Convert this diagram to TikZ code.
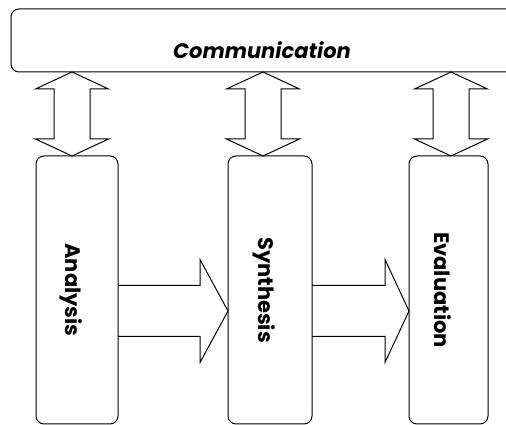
\documentclass[tikz,border=0pt]{standalone}
\usepackage{fontspec}
\setmainfont{Poppins}
\usetikzlibrary{calc}

% vertical two-headed block arrow between comm and a stage, at a given x
\newcommand\updown[2]{%
  \draw[blockarrow] let \p1=(comm.south), \p2=(#2.north) in
    (#1pt,\y1) -- (#1pt+36.5pt,\y1-17pt) -- (#1pt+18pt,\y1-17pt)
    -- (#1pt+18pt,\y2+17pt) -- (#1pt+36.5pt,\y2+17pt) -- (#1pt,\y2)
    -- (#1pt-36.5pt,\y2+17pt) -- (#1pt-18pt,\y2+17pt)
    -- (#1pt-18pt,\y1-17pt) -- (#1pt-36.5pt,\y1-17pt) -- cycle;}
% horizontal block arrow from one stage to the next
\newcommand\forward[3]{%
  \draw[blockarrow] let \p1=(#1.east), \p2=(#2.west) in
    (\x1,139.5pt) -- (\x2-#3pt,139.5pt) -- (\x2-#3pt,165.5pt)
    -- (\x2,114pt) -- (\x2-#3pt,62.5pt) -- (\x2-#3pt,88.5pt) -- (\x1,88.5pt);}

\begin{document}
\begin{tikzpicture}[x=1pt,y=1pt,line width=1pt,
    every node/.style={inner sep=0pt,outer sep=0pt},
    stage/.style={draw,rounded corners=8pt,minimum height=268pt},
    stagelabel/.style={rotate=-90,font=\bfseries\fontsize{21}{24}\selectfont},
    blockarrow/.style={draw,line join=miter}]
  \useasboundingbox (0,0) rectangle (506,425);
  \clip (0,0) rectangle (506,425);
  \node[draw,rounded corners=8pt,minimum width=540pt,minimum height=63pt,
    anchor=north west] (comm) at (11,416) {};
  \node[font=\bfseries\itshape\fontsize{21}{24}\selectfont] (commlabel) at (262,375) {Communication};

  \node[stage,minimum width=82pt] (an) at (77,135) {};
  \node[stage,minimum width=84pt] (sy) at (270,135) {};
  \node[stage,minimum width=79pt] (ev) at (448.5,135) {};
  \node[stagelabel] (anlabel) at (71,135) {Analysis};
  \node[stagelabel] (sylabel) at (264,135) {Synthesis};
  \node[stagelabel] (evlabel) at (443,135) {Evaluation};

  \updown{72}{an}
  \updown{263}{sy}
  \updown{451}{ev}
  \forward{an}{sy}{28}
  \forward{sy}{ev}{24}
\end{tikzpicture}
\end{document}
